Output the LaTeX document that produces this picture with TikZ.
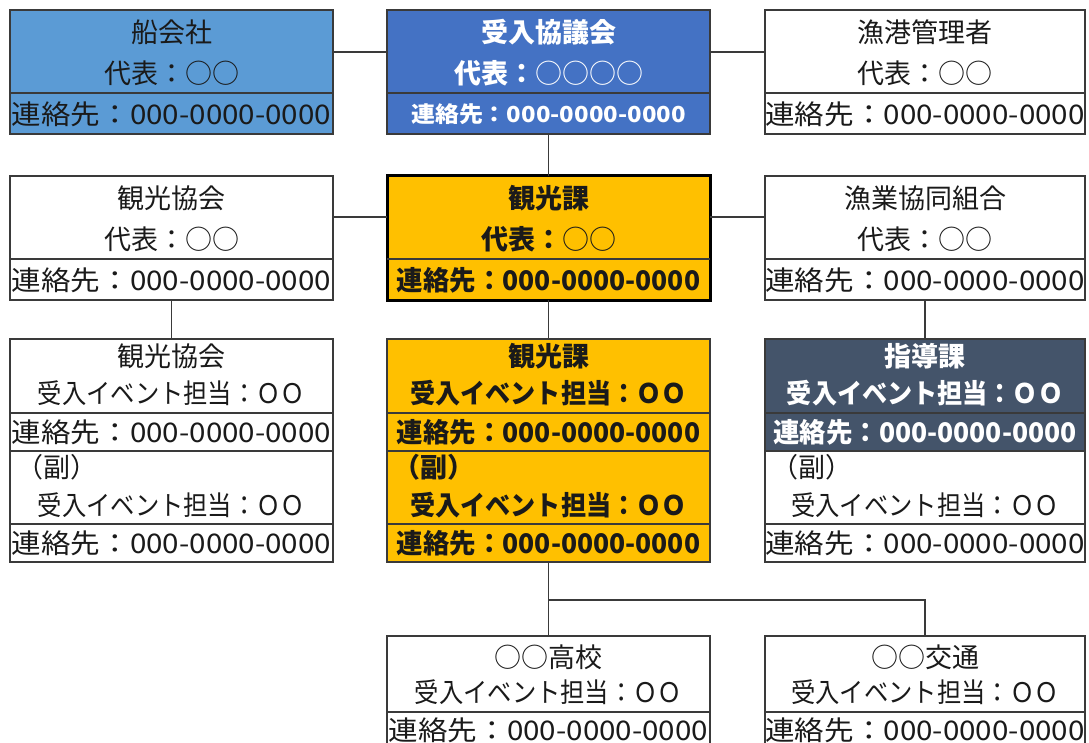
\documentclass[tikz,border=0pt]{standalone}
\usepackage{fontspec}
\setmainfont{Noto Sans CJK JP}
\definecolor{blueL}{HTML}{5B9BD5}
\definecolor{blueD}{HTML}{4472C4}
\definecolor{orng}{HTML}{FFC000}
\definecolor{slate}{HTML}{44546A}
\definecolor{bordc}{HTML}{3A3A3A}
\definecolor{ink}{HTML}{1A1A1A}
\tikzset{
  box/.style={draw=bordc, line width=1.2pt, anchor=north west, inner sep=0pt, outer sep=0pt},
  wide/.style={minimum width=323pt},
  top3/.style={minimum height=124pt},
  tall/.style={minimum height=223pt},
  txt/.style={inner sep=0pt, font=\fontsize{27}{30}\selectfont, text=ink},
  btxt/.style={txt, font=\fontsize{27}{30}\selectfont\bfseries},
  wtxt/.style={btxt, text=white},
  ltxt/.style={txt, anchor=west},
  divl/.style={draw=bordc, line width=1.2pt},
  conn/.style={draw=bordc, line width=1.2pt},
}
\newcommand\tel{\scalebox{1.095}[1]{連絡先：000-0000-0000}}
\newcommand\btel{\scalebox{0.98}[1]{連絡先：000-0000-0000}}
\newcommand\stel{\scalebox{1.09}[1]{連絡先：000-0000-0000}}
\newcommand\uke{\scalebox{0.9}[1]{受入イベント担当：ＯＯ}}
\newcommand\buke{\scalebox{0.93}[1]{受入イベント担当：ＯＯ}}
\begin{document}
\begin{tikzpicture}[x=1pt,y=-1pt]
\useasboundingbox (0,0) rectangle (1089,743);
\clip (0,0) rectangle (1089,743);
% row 1
\node[box, wide, top3, fill=blueL] (A) at (10,10) {};
\draw[divl] (10,93) -- (333,93);
\node[txt] (A1) at (171.5,32) {船会社};
\node[txt] (A2) at (171.5,73) {代表：○○};
\node[txt] (A3) at (171.5,114) {\tel};

\node[box, wide, top3, fill=blueD] (B) at (387,10) {};
\draw[divl] (387,93) -- (710,93);
\node[wtxt] (B1) at (548.5,32) {受入協議会};
\node[wtxt] (B2) at (548.5,73) {代表：{\mdseries ○○○○}};
\node[wtxt, font=\fontsize{22}{25}\selectfont\bfseries] (B3) at (548.5,114) {\stel};

\node[box, minimum width=320pt, top3, fill=white] (C) at (765,10) {};
\draw[divl] (765,93) -- (1085,93);
\node[txt] (C1) at (925,32) {漁港管理者};
\node[txt] (C2) at (925,73) {代表：○○};
\node[txt] (C3) at (925,114) {\tel};

% row 2
\node[box, wide, top3, fill=white] (D) at (10,176) {};
\draw[divl] (10,259) -- (333,259);
\node[txt] (D1) at (171.5,198) {観光協会};
\node[txt] (D2) at (171.5,239) {代表：○○};
\node[txt] (D3) at (171.5,280) {\tel};

\node[box, wide, top3, fill=orng, draw=black, line width=3pt] (E) at (387,176) {};
\draw[divl] (387,259) -- (710,259);
\node[btxt] (E1) at (548.5,198) {観光課};
\node[btxt] (E2) at (548.5,239) {代表：{\mdseries ○○}};
\node[btxt] (E3) at (548.5,280) {\btel};

\node[box, minimum width=320pt, top3, fill=white] (F) at (765,176) {};
\draw[divl] (765,259) -- (1085,259);
\node[txt] (F1) at (925,198) {漁業協同組合};
\node[txt] (F2) at (925,239) {代表：○○};
\node[txt] (F3) at (925,280) {\tel};

% row 3
\node[box, wide, tall, fill=white] (G) at (10,339) {};
\draw[divl] (10,413) -- (333,413);
\draw[divl] (10,451) -- (333,451);
\draw[divl] (10,524) -- (333,524);
\node[txt] (G1) at (171.5,356) {観光協会};
\node[txt] (G2) at (171.5,393) {\uke};
\node[txt] (G3) at (171.5,432) {\tel};
\node[ltxt] (G4) at (16,467) {（副）};
\node[txt] (G5) at (171.5,505) {\uke};
\node[txt] (G6) at (171.5,543) {\tel};

\node[box, wide, tall, fill=orng] (H) at (387,339) {};
\draw[divl] (387,413) -- (710,413);
\draw[divl] (387,451) -- (710,451);
\draw[divl] (387,524) -- (710,524);
\node[btxt] (H1) at (548.5,356) {観光課};
\node[btxt] (H2) at (548.5,393) {\buke};
\node[btxt] (H3) at (548.5,432) {\btel};
\node[btxt, anchor=west] (H4) at (393,467) {（副）};
\node[btxt] (H5) at (548.5,505) {\buke};
\node[btxt] (H6) at (548.5,543) {\btel};

\node[box, minimum width=320pt, tall, fill=white] (I) at (765,339) {};
\fill[slate] (765,339) rectangle (1085,451);
\draw[draw=bordc, line width=1.2pt] (765,339) rectangle (1085,562);
\draw[divl] (765,413) -- (1085,413);
\draw[divl] (765,451) -- (1085,451);
\draw[divl] (765,524) -- (1085,524);
\node[wtxt] (I1) at (925,356) {指導課};
\node[wtxt] (I2) at (925,393) {\buke};
\node[wtxt] (I3) at (925,432) {\btel};
\node[ltxt] (I4) at (771,467) {（副）};
\node[txt] (I5) at (925,505) {\uke};
\node[txt] (I6) at (925,543) {\tel};

% row 4
\node[box, wide, minimum height=116pt, fill=white] (J) at (387,636) {};
\draw[divl] (387,712) -- (710,712);
\node[txt] (J1) at (548.5,657) {○○高校};
\node[txt] (J2) at (548.5,692) {\uke};
\node[txt] (J3) at (548.5,730) {\tel};

\node[box, minimum width=320pt, minimum height=116pt, fill=white] (K) at (765,636) {};
\draw[divl] (765,712) -- (1085,712);
\node[txt] (K1) at (925,657) {○○交通};
\node[txt] (K2) at (925,692) {\uke};
\node[txt] (K3) at (925,730) {\tel};

% connectors
\draw[conn] (A.east |- 0,52) -- (B.west |- 0,52);
\draw[conn] (B.east |- 0,52) -- (C.west |- 0,52);
\draw[conn] (B.south) -- (E.north);
\draw[conn] (D.east |- 0,217) -- (E.west |- 0,217);
\draw[conn] (E.east |- 0,217) -- (F.west |- 0,217);
\draw[conn] (D.south) -- (G.north);
\draw[conn] (E.south) -- (H.north);
\draw[conn] (F.south) -- (I.north);
\coordinate (split) at (548.5,600);
\draw[conn] (H.south) -- (split) -- (J.north);
\draw[conn] (split) -| (K.north);
\end{tikzpicture}
\end{document}
